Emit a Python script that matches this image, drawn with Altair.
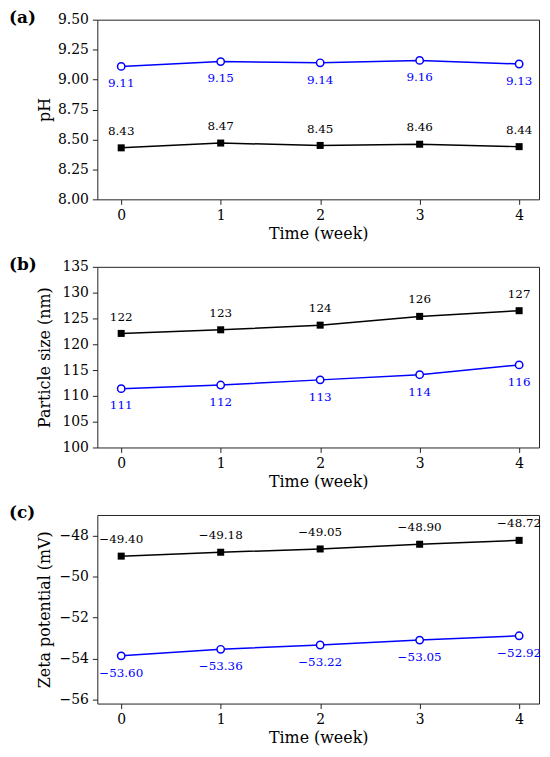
import altair as alt
import pandas as pd

weeks = [0, 1, 2, 3, 4]

# (a) pH
ph_black = [8.43, 8.47, 8.45, 8.46, 8.44]
ph_black_lab = ["8.43", "8.47", "8.45", "8.46", "8.44"]
ph_blue = [9.11, 9.15, 9.14, 9.16, 9.13]
ph_blue_lab = ["9.11", "9.15", "9.14", "9.16", "9.13"]
ph_ticks = [8.00, 8.25, 8.50, 8.75, 9.00, 9.25, 9.50]

# (b) particle size
size_black = [122.1, 122.8, 123.7, 125.4, 126.5]
size_black_lab = ["122", "123", "124", "126", "127"]
size_blue = [111.4, 112.1, 113.1, 114.1, 116.0]
size_blue_lab = ["111", "112", "113", "114", "116"]
size_ticks = [100, 105, 110, 115, 120, 125, 130, 135]

# (c) zeta potential
zeta_black = [-49.0, -48.81, -48.65, -48.42, -48.23]
zeta_black_lab = ["\u221249.40", "\u221249.18", "\u221249.05", "\u221248.90", "\u221248.72"]
zeta_blue = [-53.87, -53.55, -53.34, -53.10, -52.89]
zeta_blue_lab = ["\u221253.60", "\u221253.36", "\u221253.22", "\u221253.05", "\u221252.92"]
zeta_ticks = [-56, -54, -52, -50, -48]

BLUE = "#0000ff"
SERIF = "DejaVu Serif"
W = 445


def panel(vk, lk, vb, lb, ydom, yticks, yfmt, ytitle, h, tag):
    dk = pd.DataFrame({"week": weeks, "value": vk, "label": lk})
    db = pd.DataFrame({"week": weeks, "value": vb, "label": lb})
    x = alt.X("week:Q",
              scale=alt.Scale(domain=[-0.24, 4.2], nice=False, zero=False),
              axis=alt.Axis(values=weeks, format="d", title="Time (week)"))
    y = alt.Y("value:Q",
              scale=alt.Scale(domain=ydom, nice=False, zero=False),
              axis=alt.Axis(values=yticks, format=yfmt, title=ytitle,
                            titleX=-53, titleY=h / 2, titleAngle=-90,
                            titleAlign="center", titleBaseline="middle"))
    bk = alt.Chart(dk).encode(x=x, y=y)
    bb = alt.Chart(db).encode(x=x, y=y)
    layers = [
        bk.mark_line(color="black", strokeWidth=1.5),
        bk.mark_point(shape="square", filled=True, color="black", size=50, opacity=1),
        bk.mark_text(dy=-17, font=SERIF, fontSize=12, color="black").encode(text="label:N"),
        bb.mark_line(color=BLUE, strokeWidth=1.5),
        bb.mark_point(shape="circle", filled=True, fill="white", stroke=BLUE,
                      strokeWidth=1.5, size=55, opacity=1),
        bb.mark_text(dy=17, font=SERIF, fontSize=12, color=BLUE).encode(text="label:N"),
        alt.Chart(pd.DataFrame({"t": [tag]})).mark_text(
            align="left", baseline="middle", font=SERIF, fontSize=17,
            fontWeight="bold", color="black"
        ).encode(x=alt.value(-89), y=alt.value(-2), text="t:N"),
    ]
    return alt.layer(*layers).properties(width=W, height=h)


pa = panel(ph_black, ph_black_lab, ph_blue, ph_blue_lab, [8.0, 9.5], ph_ticks, ".2f", "pH", 181, "(a)")
pb = panel(size_black, size_black_lab, size_blue, size_blue_lab, [100, 135], size_ticks, "d",
           "Particle size (nm)", 182, "(b)")
pc = panel(zeta_black, zeta_black_lab, zeta_blue, zeta_blue_lab, [-56.2, -46.99], zeta_ticks, "d",
           "Zeta potential (mV)", 190, "(c)")

chart = alt.vconcat(pa, pb, pc, spacing=68, bounds="flush").properties(
    padding={"left": 0, "top": -3, "right": 0, "bottom": 0},
    background="white"
).configure_view(
    stroke="#222222", strokeWidth=1
).configure_axis(
    domain=False, grid=False, ticks=True, tickSize=5, tickColor="#222222",
    labelFont=SERIF, labelFontSize=14, labelColor="black", labelPadding=4,
    titleFont=SERIF, titleFontSize=16, titleFontWeight="normal", titleColor="black",
    titlePadding=3
)

chart.save("out.html", embed_options={"renderer": "svg", "actions": False})
